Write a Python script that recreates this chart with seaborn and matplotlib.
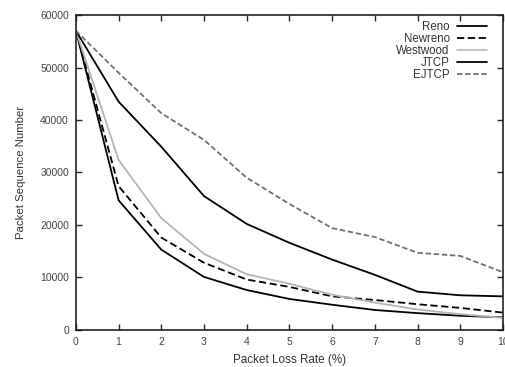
import pandas as pd
import matplotlib
matplotlib.use("Agg")
import matplotlib.pyplot as plt
import seaborn as sns

# packet loss rate (%)
loss_rate = [0, 1, 2, 3, 4, 5, 6, 7, 8, 9, 10]

# packet sequence number per protocol
reno = [57000, 24700, 15300, 10100, 7600, 5900, 4800, 3800, 3200, 2700, 2400]
newreno = [57000, 27400, 17600, 12800, 9600, 8200, 6400, 5700, 4900, 4200, 3300]
westwood = [57000, 32400, 21300, 14500, 10600, 8800, 6700, 5200, 3900, 3000, 2300]
jtcp = [57000, 43500, 34900, 25500, 20200, 16600, 13400, 10500, 7300, 6600, 6400]
ejtcp = [57000, 49000, 41300, 36200, 29000, 24000, 19400, 17700, 14700, 14100, 11000]

series = {
    "Reno": reno,
    "Newreno": newreno,
    "Westwood": westwood,
    "JTCP": jtcp,
    "EJTCP": ejtcp,
}

rows = []
for name, vals in series.items():
    for x, y in zip(loss_rate, vals):
        rows.append({"loss": x, "seq": y, "protocol": name})
df = pd.DataFrame(rows)

sns.set_style("ticks")
plt.rcParams["font.family"] = ["Liberation Sans", "DejaVu Sans"]

fig = plt.figure(figsize=(5.06, 3.67), dpi=100)
ax = fig.add_axes([0.150, 0.101, 0.844, 0.858])

palette = {"Reno": "black", "Newreno": "black", "Westwood": "#b4b4b4",
           "JTCP": "black", "EJTCP": "#707070"}
dashes = {"Reno": "", "Newreno": (4, 2), "Westwood": "", "JTCP": "",
          "EJTCP": (3, 1.5)}

sns.lineplot(data=df, x="loss", y="seq", hue="protocol", style="protocol",
             palette=palette, dashes=dashes, linewidth=1.3, ax=ax)
for line in ax.get_lines():
    if line.get_label() == "Westwood":
        line.set_linewidth(1.1)

ax.set_xlim(0, 10)
ax.set_ylim(0, 60000)
ax.set_xticks(range(0, 11))
ax.set_yticks(range(0, 60001, 10000))
ax.set_xlabel("Packet Loss Rate (%)", fontsize=8.4, color="#333333", labelpad=5)
ax.set_ylabel("Packet Sequence Number", fontsize=8.2, color="#333333", labelpad=10)
ax.tick_params(direction="in", top=True, right=True, length=4, width=1,
               labelsize=7.5, labelcolor="#444444", pad=5)
for sp in ax.spines.values():
    sp.set_visible(True)
    sp.set_linewidth(1.2)
    sp.set_color("#222222")

leg = ax.legend(loc="upper right", bbox_to_anchor=(0.975, 1.0), frameon=False,
                markerfirst=False, fontsize=8.3, handlelength=2.6,
                labelspacing=0.0, borderaxespad=0.1, handletextpad=0.6)
for t in leg.get_texts():
    t.set_ha("right")
    t.set_color("#333333")

fig.savefig("out.png", dpi=100)
